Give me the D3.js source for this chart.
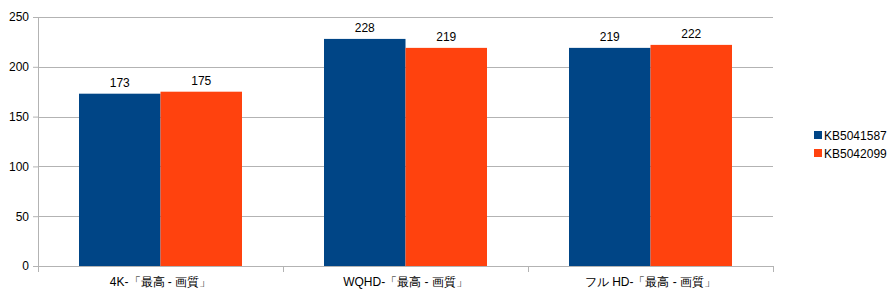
<!DOCTYPE html>
<html>
<head>
<meta charset="utf-8">
<script src="https://cdn.jsdelivr.net/npm/d3@7"></script>
<style>
body { margin: 0; background: #fff; }
text { font-family: "Liberation Sans", Arial, sans-serif; font-size: 12px; fill: #000; }
</style>
</head>
<body>
<script>
// chart data
var categories = ['4K-「最高 - 画質」', 'WQHD-「最高 - 画質」', 'フル HD-「最高 - 画質」'];
var seriesNames = ['KB5041587', 'KB5042099'];
var kb5041587 = [173, 228, 219];
var kb5042099 = [175, 219, 222];
var yTicks = [0, 50, 100, 150, 200, 250];
var colors = ['#004586', '#ff420e'];

var W = 894, H = 299;
var margin = { top: 17, right: 121, bottom: 33, left: 38 },
    width = W - margin.left - margin.right,
    height = H - margin.top - margin.bottom;

var svg = d3.select('body').append('svg')
    .attr('width', W)
    .attr('height', H);

var g = svg.append('g')
    .attr('transform', 'translate(' + margin.left + ',' + margin.top + ')');

var x = d3.scaleBand().domain(categories).range([0, width]).paddingInner(0).paddingOuter(0);
var inner = 41 / 245;
var x1 = d3.scaleBand().domain(seriesNames).range([x.bandwidth() * inner, x.bandwidth() * (1 - inner)]);
var y = d3.scaleLinear().domain([0, 250]).range([height, 0]);

// gridlines
g.selectAll('.grid').data(yTicks).enter().append('line')
    .attr('x1', 0).attr('x2', width)
    .attr('y1', function (d) { return Math.round(y(d)) + 0.5; })
    .attr('y2', function (d) { return Math.round(y(d)) + 0.5; })
    .attr('stroke', '#b3b3b3');

// bars
var series = [kb5041587, kb5042099];
var groups = g.selectAll('.grp').data(categories).enter().append('g')
    .attr('transform', function (d) { return 'translate(' + x(d) + ',0)'; });

groups.each(function (cat, i) {
    var grp = d3.select(this);
    seriesNames.forEach(function (s, j) {
        var v = series[j][i];
        grp.append('rect')
            .attr('x', x1(s))
            .attr('y', y(v))
            .attr('width', x1.bandwidth())
            .attr('height', height - y(v))
            .attr('fill', colors[j]);
        grp.append('text')
            .attr('x', x1(s) + x1.bandwidth() / 2)
            .attr('y', y(v) - 7)
            .attr('text-anchor', 'middle')
            .text(v);
    });
});

// y axis
var yAxis = g.append('g').call(d3.axisLeft(y).tickValues(yTicks).tickSize(5).tickPadding(4));
yAxis.select('.domain').attr('stroke', '#b3b3b3').attr('d', 'M0.5,0V' + height);
yAxis.selectAll('.tick line').attr('stroke', '#b3b3b3');
yAxis.selectAll('.tick text').style('font-size', '12px').attr('fill', '#000');

// x axis
var xAxis = g.append('g').attr('transform', 'translate(0,' + height + ')');
xAxis.append('line').attr('x1', 0).attr('x2', width).attr('y1', 0.5).attr('y2', 0.5).attr('stroke', '#b3b3b3');
var bounds = [0].concat(categories.map(function (c) { return x(c) + x.bandwidth(); }));
xAxis.selectAll('.xt').data(bounds).enter().append('line')
    .attr('x1', function (d) { return Math.round(d) + 0.5; })
    .attr('x2', function (d) { return Math.round(d) + 0.5; })
    .attr('y1', 0).attr('y2', 6)
    .attr('stroke', '#b3b3b3');
xAxis.selectAll('.xl').data(categories).enter().append('text')
    .attr('x', function (d) { return x(d) + x.bandwidth() / 2; })
    .attr('y', 20)
    .attr('text-anchor', 'middle')
    .text(function (d) { return d; });

// legend
var legend = svg.append('g').attr('transform', 'translate(814,131)');
seriesNames.forEach(function (s, j) {
    legend.append('rect').attr('x', 0).attr('y', j * 18).attr('width', 8).attr('height', 8).attr('fill', colors[j]);
    legend.append('text').attr('x', 10).attr('y', j * 18 + 8.5).text(s);
});
</script>
</body>
</html>
